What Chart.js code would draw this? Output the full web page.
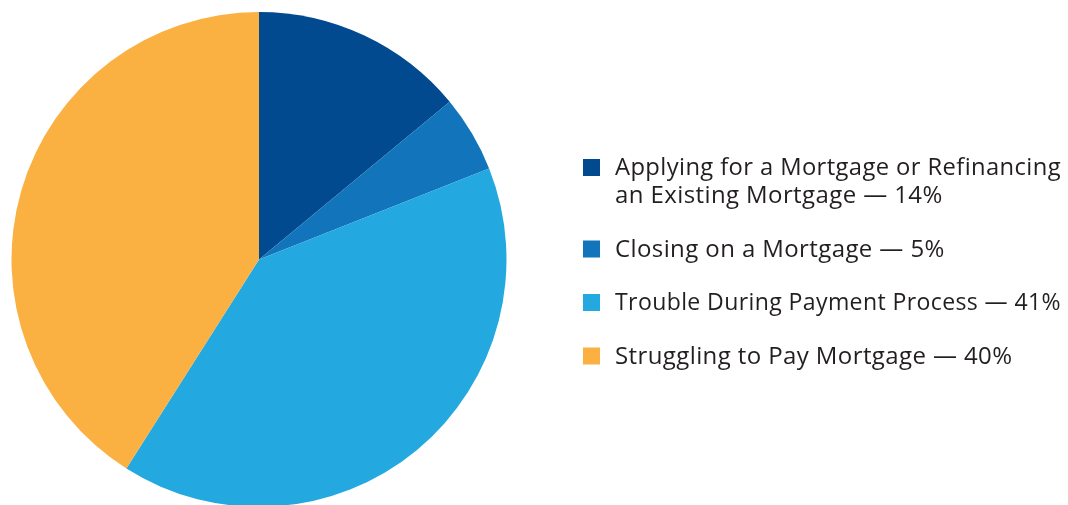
<!DOCTYPE html>
<html>
<head>
<meta charset="utf-8">
<script src="https://cdn.jsdelivr.net/npm/chart.js@4/dist/chart.umd.min.js"></script>
<style>
  html, body { margin: 0; padding: 0; background: #fff; overflow: hidden; }
  #wrap { position: relative; width: 1068px; height: 510px; }
</style>
</head>
<body>
<div id="wrap"><canvas id="pieChart"></canvas></div>
<script>
// Data (legend text as printed, slice sizes as drawn)
const categories = [
  ['Applying for a Mortgage or Refinancing', 'an Existing Mortgage \u2014 14%'],
  ['Closing on a Mortgage \u2014 5%'],
  ['Trouble During Payment Process \u2014 41%'],
  ['Struggling to Pay Mortgage \u2014 40%']
];
const shares = [14, 5, 40, 41];
const colors = ['#024a8f', '#1275bb', '#24a8e0', '#fbb042'];

// Legend drawn straight onto the canvas
const sideLegend = {
  id: 'sideLegend',
  afterDraw(chart) {
    const ctx = chart.ctx;
    ctx.save();
    ctx.font = '24px "Open Sans"';
    ctx.letterSpacing = '0.4px';
    ctx.textBaseline = 'alphabetic';
    let y = 175;
    categories.forEach((lines, i) => {
      ctx.fillStyle = colors[i];
      ctx.fillRect(583, y - 16, 17, 17);
      ctx.fillStyle = '#231f20';
      lines.forEach((line, j) => {
        // keep long lines inside the right edge
        ctx.fillText(line, 615, y + j * 28, 446);
      });
      y += (lines.length - 1) * 28 + 53.5;
    });
    ctx.restore();
  }
};

const ctx = document.getElementById('pieChart').getContext('2d');
new Chart(ctx, {
  type: 'pie',
  data: {
    labels: categories.map(l => l.join(' ')),
    datasets: [{
      data: shares,
      backgroundColor: colors,
      borderWidth: 0
    }]
  },
  options: {
    responsive: true,
    maintainAspectRatio: false,
    animation: false,
    layout: {
      padding: { left: 11, right: 561, top: 12, bottom: 3 }
    },
    plugins: {
      legend: { display: false },
      tooltip: { enabled: false }
    }
  },
  plugins: [sideLegend]
});
</script>
</body>
</html>
